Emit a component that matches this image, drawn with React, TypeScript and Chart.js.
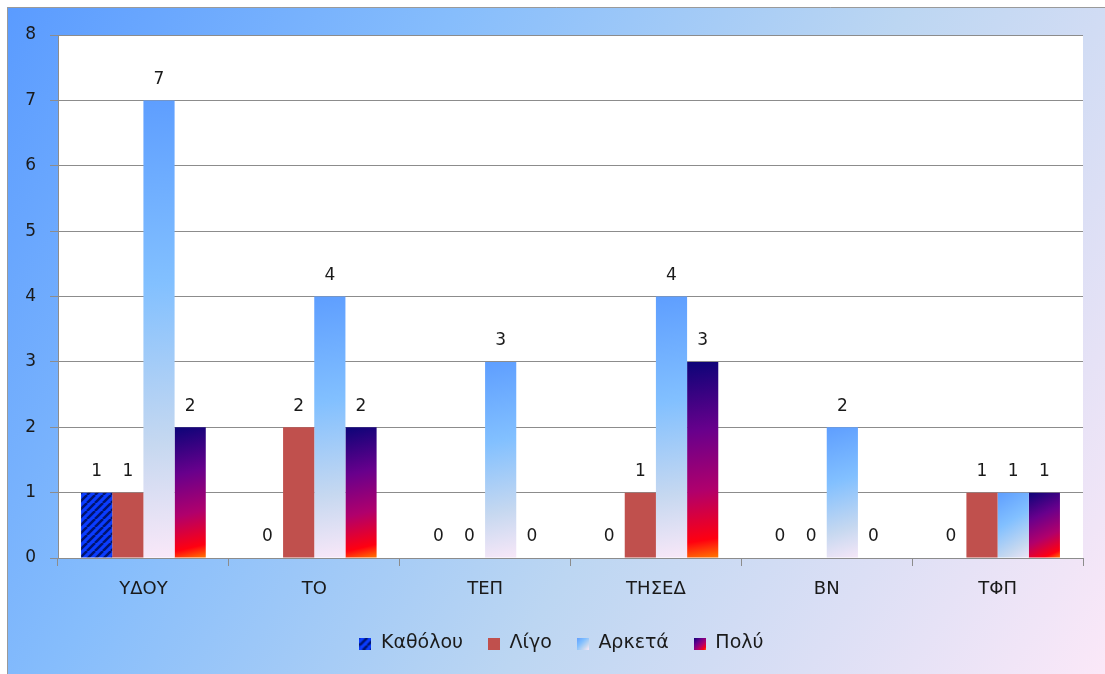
import React, { useEffect, useRef } from "react";
import { Chart, registerables } from "chart.js";

Chart.register(...registerables);

const categories = ["ΥΔΟΥ", "ΤΟ", "ΤΕΠ", "ΤΗΣΕΔ", "ΒΝ", "ΤΦΠ"];
const seriesNames = ["Καθόλου", "Λίγο", "Αρκετά", "Πολύ"];
const katholou = [1, 0, 0, 0, 0, 0];
const ligo = [1, 2, 0, 1, 0, 1];
const arketa = [7, 4, 3, 4, 2, 1];
const poly = [2, 2, 0, 3, 0, 1];
const yTicks = [0, 1, 2, 3, 4, 5, 6, 7, 8];

const FONT = "'DejaVu Sans', 'Noto Sans', sans-serif";
const CAT_PCT = 0.73;

function makeStripePattern(ctx: CanvasRenderingContext2D): CanvasPattern | string {
  const c = document.createElement("canvas");
  c.width = 8;
  c.height = 8;
  const g = c.getContext("2d")!;
  g.fillStyle = "#0a3cff";
  g.fillRect(0, 0, 8, 8);
  g.strokeStyle = "#001470";
  g.lineWidth = 2.5;
  g.beginPath();
  for (let k = -8; k <= 16; k += 8) {
    g.moveTo(k, 8);
    g.lineTo(k + 8, 0);
  }
  g.stroke();
  const p = ctx.createPattern(c, "repeat");
  return p || "#0a3cff";
}

function arketaGrad(ctx: CanvasRenderingContext2D, x0: number, y0: number, x1: number, y1: number) {
  const g = ctx.createLinearGradient(x0, y0, x1, y1);
  g.addColorStop(0, "#5e9eff");
  g.addColorStop(0.4, "#82c0ff");
  g.addColorStop(0.75, "#c6d8f0");
  g.addColorStop(1, "#fae8f8");
  return g;
}

function polyGrad(ctx: CanvasRenderingContext2D, x0: number, y0: number, x1: number, y1: number) {
  const g = ctx.createLinearGradient(x0, y0, x1, y1);
  g.addColorStop(0, "#0c0478");
  g.addColorStop(0.35, "#68008c");
  g.addColorStop(0.65, "#b0006c");
  g.addColorStop(0.9, "#ff0010");
  g.addColorStop(1, "#ff7a00");
  return g;
}

function barBox(context: any) {
  const chart = context.chart;
  const ys = chart.scales.y;
  const xs = chart.scales.x;
  if (!ys || !xs) return null;
  const v = context.raw as number;
  const top = ys.getPixelForValue(v);
  const base = ys.getPixelForValue(0);
  const center = xs.getPixelForValue(context.dataIndex);
  const catW = xs.width / categories.length;
  const groupW = catW * CAT_PCT;
  const bw = groupW / seriesNames.length;
  const left = center - groupW / 2 + context.datasetIndex * bw;
  const ok = [top, base, left, bw].every((n) => Number.isFinite(n));
  if (!ok) return null;
  return { left, right: left + bw, top, base };
}

function legendIcon(kind: number): HTMLCanvasElement {
  const c = document.createElement("canvas");
  c.width = 12;
  c.height = 12;
  const g = c.getContext("2d")!;
  if (kind === 0) {
    g.fillStyle = makeStripePattern(g) as any;
  } else if (kind === 1) {
    g.fillStyle = "#c0504d";
  } else if (kind === 2) {
    g.fillStyle = arketaGrad(g, 0, 0, 12, 12);
  } else {
    g.fillStyle = polyGrad(g, 0, 0, 12, 12);
  }
  g.fillRect(0, 0, 12, 12);
  return c;
}

const bgPlugin = {
  id: "bgPlugin",
  beforeDraw(chart: any) {
    const { ctx, width, height, chartArea } = chart;
    ctx.save();
    const g = ctx.createLinearGradient(0, 0, width, height);
    g.addColorStop(0, "#5a9bff");
    g.addColorStop(0.3, "#86bdfc");
    g.addColorStop(0.6, "#bcd6f2");
    g.addColorStop(1, "#fbe8f8");
    ctx.fillStyle = g;
    ctx.fillRect(0, 0, width, height);
    ctx.strokeStyle = "#9a9a9a";
    ctx.lineWidth = 1;
    ctx.beginPath();
    ctx.moveTo(0.5, height);
    ctx.lineTo(0.5, 0.5);
    ctx.lineTo(width, 0.5);
    ctx.stroke();
    if (chartArea) {
      ctx.fillStyle = "#ffffff";
      ctx.fillRect(chartArea.left, chartArea.top, chartArea.right - chartArea.left, chartArea.bottom - chartArea.top);
    }
    ctx.restore();
  },
};

const labelPlugin = {
  id: "labelPlugin",
  afterDatasetsDraw(chart: any) {
    const { ctx } = chart;
    ctx.save();
    ctx.font = `17px ${FONT}`;
    ctx.fillStyle = "#1a1a1a";
    ctx.textAlign = "center";
    ctx.textBaseline = "middle";
    chart.data.datasets.forEach((ds: any, di: number) => {
      const meta = chart.getDatasetMeta(di);
      meta.data.forEach((el: any, i: number) => {
        const v = ds.data[i];
        ctx.fillText(String(v), el.x, el.y - 21);
      });
    });
    ctx.restore();
  },
};

export default function App() {
  const ref = useRef<HTMLCanvasElement>(null);
  useEffect(() => {
    if (!ref.current) return;
    const ctx0 = ref.current.getContext("2d")!;
    const stripe = makeStripePattern(ctx0);
    const icons = [0, 1, 2, 3].map(legendIcon);
    const chart = new Chart(ref.current, {
      type: "bar",
      data: {
        labels: categories,
        datasets: [
          { label: seriesNames[0], data: katholou, backgroundColor: stripe as any },
          { label: seriesNames[1], data: ligo, backgroundColor: "#c0504d" },
          {
            label: seriesNames[2],
            data: arketa,
            backgroundColor: (context: any) => {
              const b = barBox(context);
              if (!b || b.base - b.top < 1) return "#82c0ff";
              return arketaGrad(context.chart.ctx, b.left, b.top, b.right + 10, b.base);
            },
          },
          {
            label: seriesNames[3],
            data: poly,
            backgroundColor: (context: any) => {
              const b = barBox(context);
              if (!b || b.base - b.top < 1) return "#800080";
              return polyGrad(context.chart.ctx, b.left, b.top, b.right, b.base);
            },
          },
        ],
      },
      options: {
        animation: false,
        responsive: false,
        maintainAspectRatio: false,
        datasets: { bar: { categoryPercentage: CAT_PCT, barPercentage: 1 } },
        layout: { padding: { left: 11, right: 0, top: 28, bottom: 11 } },
        plugins: {
          tooltip: { enabled: false },
          legend: {
            position: "bottom",
            labels: {
              font: { family: FONT, size: 19 },
              color: "#1a1a1a",
              usePointStyle: true,
              boxWidth: 12,
              boxHeight: 12,
              padding: 25,
              generateLabels: () =>
                seriesNames.map((n, i) => ({
                  text: n,
                  pointStyle: icons[i],
                  fillStyle: "transparent",
                  strokeStyle: "transparent",
                  lineWidth: 0,
                  hidden: false,
                  datasetIndex: i,
                  fontColor: "#1a1a1a",
                })) as any,
            },
          },
        },
        scales: {
          x: {
            offset: true,
            grid: {
              offset: true,
              drawOnChartArea: false,
              drawTicks: true,
              tickLength: 8,
              color: "#8c8c8c",
            },
            border: { color: "#8c8c8c" },
            ticks: { font: { family: FONT, size: 18 }, color: "#1a1a1a", padding: 13 },
            afterFit: (s: any) => {
              s.height = 51;
            },
          },
          y: {
            min: 0,
            max: 8,
            afterBuildTicks: (s: any) => {
              s.ticks = yTicks.map((v) => ({ value: v }));
            },
            grid: { color: "#8c8c8c", tickLength: 8 },
            border: { color: "#8c8c8c" },
            ticks: { font: { family: FONT, size: 17 }, color: "#1a1a1a", padding: 14, stepSize: 1 },
            afterFit: (s: any) => {
              s.width = 40;
            },
          },
          yRight: {
            position: "right",
            min: 0,
            max: 8,
            grid: { display: false, drawOnChartArea: false },
            border: { display: false },
            ticks: { display: false },
            afterFit: (s: any) => {
              s.width = 22;
            },
          },
        },
      },
      plugins: [bgPlugin, labelPlugin],
    });
    return () => chart.destroy();
  }, []);
  return (
    <div style={{ position: "absolute", left: 7, top: 7, width: 1098, height: 667 }}>
      <canvas ref={ref} width={1098} height={667} style={{ display: "block", width: 1098, height: 667 }} />
    </div>
  );
}
